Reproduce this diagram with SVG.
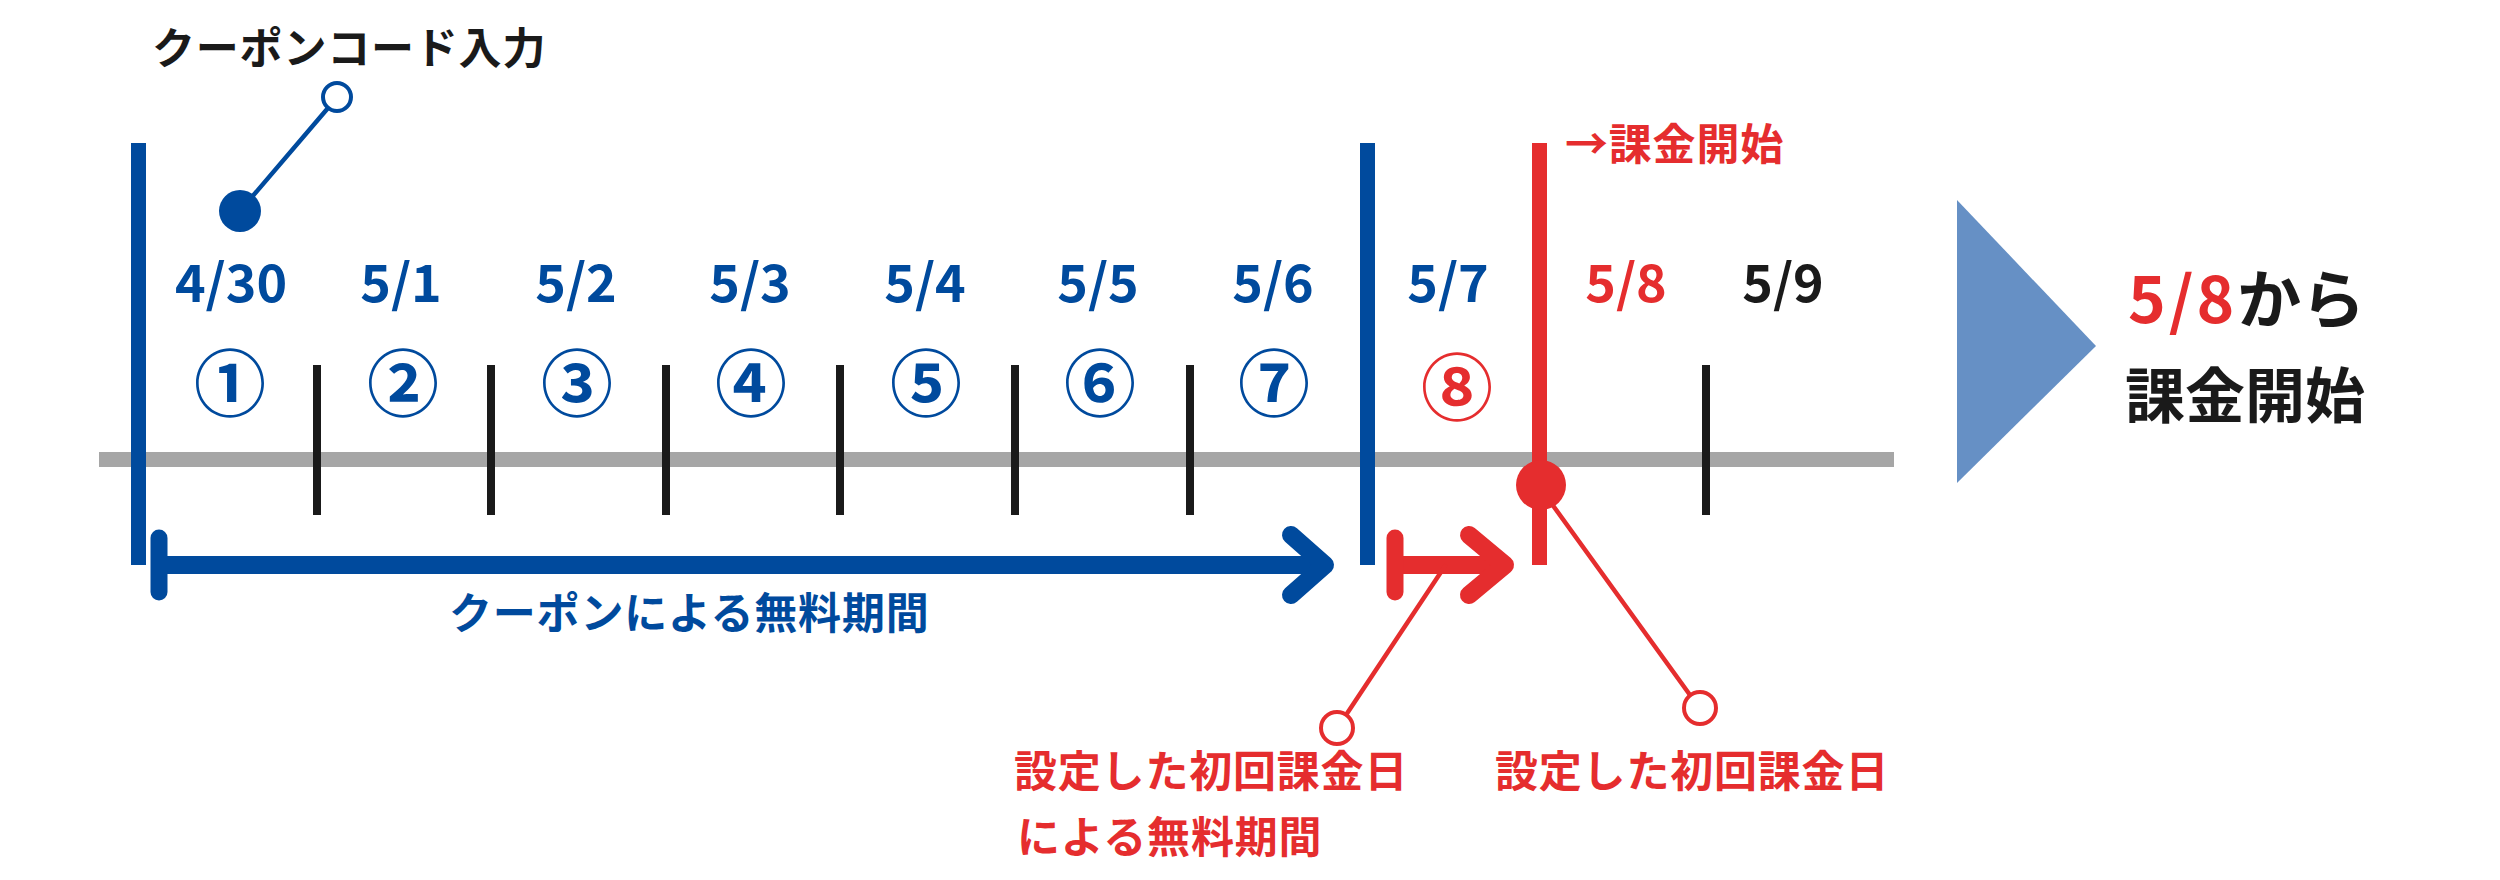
<svg xmlns="http://www.w3.org/2000/svg" width="2500" height="880" viewBox="0 0 2500 880">
<style>
text{font-family:"Noto Sans CJK JP","Noto Sans",sans-serif;font-weight:700}
.b{fill:#004a9d}.r{fill:#e52d2e}.k{fill:#1a1a1a}
.lbl{font-size:43px;letter-spacing:0.8px}
.date{font-size:52px;text-anchor:middle}
.circ{font-size:72px;text-anchor:middle;font-weight:700}
.tick{fill:#1a1a1a}
</style>
<rect width="2500" height="880" fill="#fff"/>
<g id="timeline">
<rect x="99" y="452" width="1795" height="15" fill="#a6a6a6"/>
<rect x="313" y="365" width="8" height="150" class="tick"/>
<rect x="487" y="365" width="8" height="150" class="tick"/>
<rect x="662" y="365" width="8" height="150" class="tick"/>
<rect x="836" y="365" width="8" height="150" class="tick"/>
<rect x="1011" y="365" width="8" height="150" class="tick"/>
<rect x="1186" y="365" width="8" height="150" class="tick"/>
<rect x="1702" y="365" width="8" height="150" class="tick"/>
<rect x="131" y="143" width="15" height="422" fill="#004a9d"/>
<rect x="1360" y="143" width="15" height="422" fill="#004a9d"/>
<rect x="1532" y="143" width="15" height="422" fill="#e52d2e"/>
</g>
<g id="dates">
<text x="231" y="302" class="date b">4/30</text>
<text x="401" y="302" class="date b">5/1</text>
<text x="576" y="302" class="date b">5/2</text>
<text x="750" y="302" class="date b">5/3</text>
<text x="925" y="302" class="date b">5/4</text>
<text x="1098" y="302" class="date b">5/5</text>
<text x="1273" y="302" class="date b">5/6</text>
<text x="1448" y="302" class="date b">5/7</text>
<text x="1626" y="302" class="date r">5/8</text>
<text x="1783" y="302" class="date k">5/9</text>
</g>
<g id="days">
<text x="230" y="410" class="circ b">①</text>
<text x="403" y="410" class="circ b">②</text>
<text x="577" y="410" class="circ b">③</text>
<text x="751" y="410" class="circ b">④</text>
<text x="926" y="410" class="circ b">⑤</text>
<text x="1100" y="410" class="circ b">⑥</text>
<text x="1274" y="410" class="circ b">⑦</text>
<text x="1457" y="414" class="circ r">⑧</text>
</g>
<g id="connectors" fill="none" stroke-linecap="round" stroke-linejoin="round">
<line x1="240" y1="211" x2="328" y2="108" stroke="#004a9d" stroke-width="4.5"/>
<line x1="159" y1="565" x2="1325" y2="565" stroke="#004a9d" stroke-width="18" stroke-linecap="butt"/>
<line x1="159" y1="538" x2="159" y2="592" stroke="#004a9d" stroke-width="17"/>
<polyline points="1291,535 1325,565 1291,595" stroke="#004a9d" stroke-width="18"/>
<line x1="1395" y1="565" x2="1505" y2="565" stroke="#e52d2e" stroke-width="18" stroke-linecap="butt"/>
<line x1="1395" y1="538" x2="1395" y2="592" stroke="#e52d2e" stroke-width="17"/>
<polyline points="1469,535 1505,565 1469,595" stroke="#e52d2e" stroke-width="18"/>
<line x1="1445" y1="566" x2="1346" y2="715" stroke="#e52d2e" stroke-width="4.5"/>
<line x1="1549" y1="500" x2="1690" y2="695" stroke="#e52d2e" stroke-width="4.5"/>
</g>
<g id="coupon-input">
<circle cx="240" cy="211" r="21" fill="#004a9d"/>
<circle cx="337" cy="97" r="14" fill="#fff" stroke="#004a9d" stroke-width="4"/>
<text x="152" y="64" class="lbl k">クーポンコード入力</text>
</g>
<g id="billing-start">
<circle cx="1541" cy="485" r="25" fill="#e52d2e"/>
<text x="1565" y="160" class="lbl r">→課金開始</text>
</g>
<g id="coupon-free">
<text x="449" y="629" class="lbl b">クーポンによる無料期間</text>
</g>
<g id="setting-free">
<circle cx="1337" cy="728" r="16" fill="#fff" stroke="#e52d2e" stroke-width="4"/>
<text x="1014" y="787" class="lbl r">設定した初回課金日</text>
<text x="1017" y="853" class="lbl r">による無料期間</text>
</g>
<g id="setting-date">
<circle cx="1700" cy="708" r="16" fill="#fff" stroke="#e52d2e" stroke-width="4"/>
<text x="1495" y="787" class="lbl r">設定した初回課金日</text>
</g>
<g id="result">
<polygon points="1957,200 2096,346 1957,483" fill="#6690c5"/>
<text x="2128" y="323" style="font-size:64px"><tspan class="r" letter-spacing="3">5/8</tspan><tspan class="k">から</tspan></text>
<text x="2125" y="418" class="k" style="font-size:60px">課金開始</text>
</g>
</svg>
